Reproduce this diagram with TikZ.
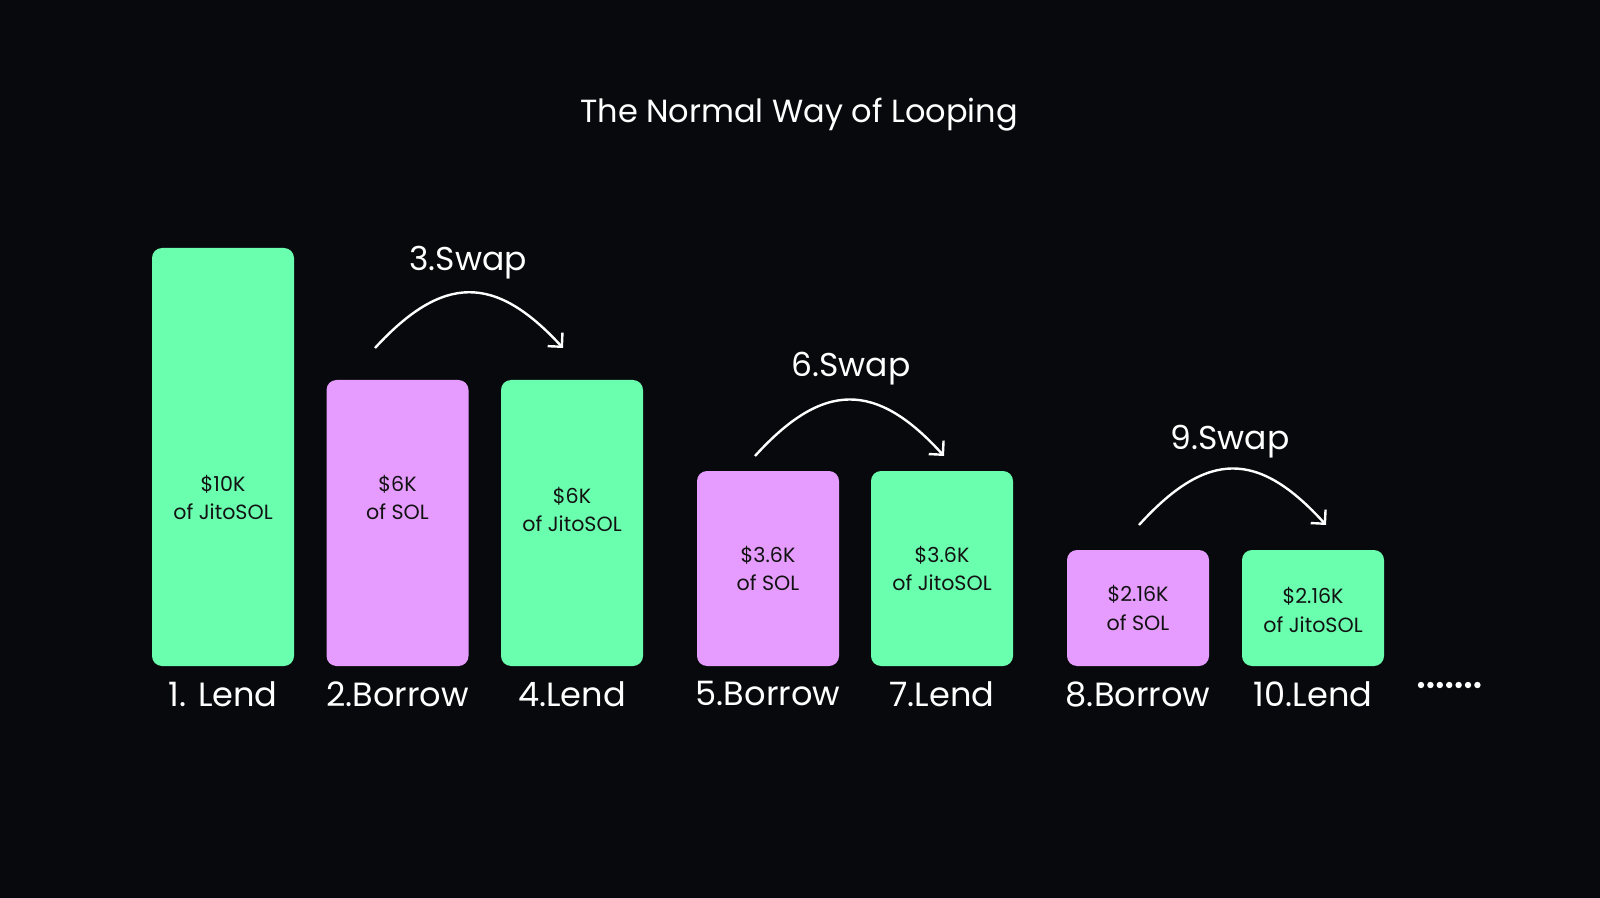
\documentclass[tikz,border=0pt]{standalone}
\usepackage{fontspec}
\setmainfont{Poppins}
\usetikzlibrary{arrows.meta,positioning}
\definecolor{bg}{HTML}{08090C}
\definecolor{lendgreen}{HTML}{69FFAF}
\definecolor{borrowpink}{HTML}{E69CFF}
\definecolor{ink}{HTML}{121212}

\begin{document}
\begin{tikzpicture}[
    x=0.5pt, y=-0.5pt,
    bar/.style={rectangle, rounded corners=5pt, minimum width=71pt, inner sep=0pt},
    lend/.style={bar, fill=lendgreen},
    borrow/.style={bar, fill=borrowpink},
    val/.style={align=center, font=\fontsize{10.3}{14.3}\selectfont, text=ink},
    lbl/.style={font=\fontsize{16.8}{20}\selectfont, text=white, anchor=north},
    swaplbl/.style={font=\fontsize{16.5}{20}\selectfont, text=white},
    swaparc/.style={draw=white, line width=1.2pt, -{Straight Barb[length=5pt,width=10pt]}}
]
\useasboundingbox (0,0) rectangle (1600,898);
\fill[bg] (0,0) rectangle (1600,898);

\node[text=white, font=\fontsize{16}{19}\selectfont] (title) at (799,115) {The Normal Way of Looping};

% bars
\node[lend, minimum height=209pt] (b1) at (223,457) {};
\node[borrow, minimum height=143pt] (b2) at (397.5,523) {};
\node[lend, minimum height=143pt] (b3) at (572,523) {};
\node[borrow, minimum height=97.5pt] (b4) at (768,568.5) {};
\node[lend, minimum height=97.5pt] (b5) at (942,568.5) {};
\node[borrow, minimum height=58pt] (b6) at (1138,608) {};
\node[lend, minimum height=58pt] (b7) at (1313,608) {};

\node[val] (t1) at (223,497.5) {\$10K\\of JitoSOL};
\node[val] (t2) at (397.5,497.5) {\$6K\\of SOL};
\node[val] (t3) at (572,509.5) {\$6K\\of JitoSOL};
\node[val] (t4) at (768,568.5) {\$3.6K\\of SOL};
\node[val] (t5) at (942,568.5) {\$3.6K\\of JitoSOL};
\node[val] (t6) at (1138,608) {\$2.16K\\of SOL};
\node[val] (t7) at (1313,610) {\$2.16K\\of JitoSOL};

\node[lbl, below=4pt of b1] (l1) {1. Lend};
\node[lbl, below=4pt of b2] (l2) {2.Borrow};
\node[lbl, below=4pt of b3] (l3) {4.Lend};
\node[lbl, below=4pt of b4] (l4) {5.Borrow};
\node[lbl, below=4pt of b5] (l5) {7.Lend};
\node[lbl, below=4pt of b6] (l6) {8.Borrow};
\node[lbl, below=4pt of b7] (l7) {10.Lend};

% swaps
\node[swaplbl] (s3) at (468,263) {3.Swap};
\node[swaplbl] (s6) at (851,369) {6.Swap};
\node[swaplbl] (s9) at (1230,442) {9.Swap};
\coordinate (a3) at (375,348);  \coordinate (e3) at (563,348);
\coordinate (a6) at (755,456);  \coordinate (e6) at (944,456);
\coordinate (a9) at (1139,525); \coordinate (e9) at (1326,525);
\draw[swaparc] (a3) .. controls +(68,-74) and +(-68,-74) .. (e3);
\draw[swaparc] (a6) .. controls +(68,-75) and +(-68,-75) .. (e6);
\draw[swaparc] (a9) .. controls +(68,-75) and +(-68,-75) .. (e9);

% more steps
\foreach \i in {0,...,6}
  \fill[white] (1421+\i*9.4,685) circle (1.6pt);
\end{tikzpicture}
\end{document}
